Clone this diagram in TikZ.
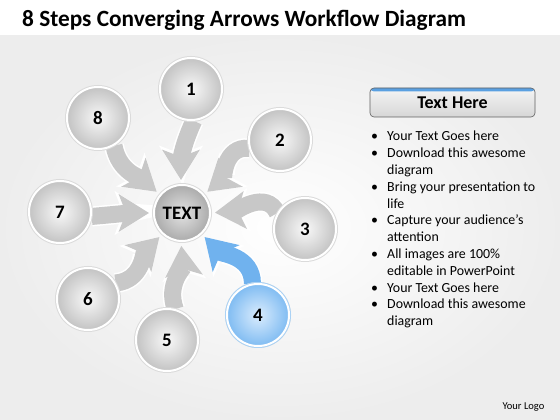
\documentclass[tikz,border=0pt]{standalone}
\usepackage{fontspec}
\setmainfont{Carlito}
\usetikzlibrary{arrows.meta,backgrounds}

\definecolor{arrgray}{RGB}{200,200,200}
\definecolor{arrblue}{RGB}{112,178,238}
\definecolor{hdrblue}{RGB}{90,160,225}

\begin{document}
\begin{tikzpicture}
   [
    x=1pt, y=1pt,
    kugel/.style={circle, minimum size=62pt, inner sep=0pt, shading=radial,
                  inner color=gray!5, outer color=gray!47, draw=white,
                  line width=2pt, preaction={draw=gray!28, line width=4pt},
                  font=\bfseries\fontsize{19}{21}\selectfont},
    mitte/.style={kugel, minimum size=56pt, inner color=gray!22,
                  outer color=gray!66},
    blaukugel/.style={kugel, inner color={rgb,255:red,218;green,236;blue,253},
                  outer color={rgb,255:red,128;green,188;blue,242},
                  preaction={draw={rgb,255:red,170;green,210;blue,245}, line width=4pt}},
    pfeil/.style={line width=17pt, draw=arrgray, shorten >=4pt,
                  -{Stealth[length=30pt,width=37pt,inset=7pt]},
                  preaction={draw=white, line width=20pt,
                             -{Stealth[length=34pt,width=43pt,inset=8pt]}}},
    kopf/.style={rectangle, rounded corners=4pt, minimum width=165pt,
                 minimum height=29pt, top color=gray!8, bottom color=gray!32,
                 draw=gray!75!black, line width=0.6pt,
                 font=\bfseries\fontsize{18}{20}\selectfont,
                 path picture={\fill[hdrblue] (path picture bounding box.north west)
                   rectangle ([yshift=-3.5pt]path picture bounding box.north east);}}
   ]

% background
\begin{pgfonlayer}{background}
\shade[inner color=white, outer color=gray!14] (0,0) rectangle (560,385);
\fill[white] (0,385) rectangle (560,420);
\end{pgfonlayer}

% title
\node[anchor=base west, inner sep=0pt,
      font=\bfseries\fontsize{23.3}{28}\selectfont] (titel) at (22,393)
     {8 Steps Converging Arrows Workflow Diagram};

% center and the eight steps
\node[mitte] (ctr) at (182,207) {TEXT};
\node[kugel] (c1) at (191,331) {1};
\node[kugel] (c2) at (280,280) {2};
\node[kugel] (c3) at (305,191) {3};
\node[blaukugel] (c4) at (258,105) {4};
\node[kugel] (c5) at (167,80) {5};
\node[kugel] (c6) at (88,121) {6};
\node[kugel] (c7) at (60,208) {7};
\node[kugel] (c8) at (98,302) {8};

% converging arrows
\begin{pgfonlayer}{background}
\draw[pfeil] (c1.275) to[out=245,in=90] (ctr.92);
\draw[pfeil] (c2.195) to[out=175,in=40] (ctr.40);
\draw[pfeil] (c3.150) to[out=115,in=5] (ctr.0);
\draw[pfeil, draw=arrblue] (c4.100) to[out=90,in=-45] (ctr.-47);
\draw[pfeil] (c5.75) to[out=110,in=-85] (ctr.-92);
\draw[pfeil] (c6.30) to[out=5,in=-135] (ctr.-133);
\draw[pfeil] (c7.-8) to[out=5,in=180] (ctr.180);
\draw[pfeil] (c8.-60) to[out=-80,in=140] (ctr.140);
\end{pgfonlayer}

% text panel
\node[kopf] (kopf) at (452.5,317.5) {Text Here};
\node[anchor=north west, inner sep=0pt,
      font=\fontsize{13.9}{16.8}\selectfont] (liste) at (368,291)
  {\begin{tabular}{@{}p{19pt}@{}l@{}}
   \hspace{3pt}\textbullet & Your Text Goes here\\
   \hspace{3pt}\textbullet & Download this awesome\\
                           & diagram\\
   \hspace{3pt}\textbullet & Bring your presentation to\\
                           & life\\
   \hspace{3pt}\textbullet & Capture your audience’s\\
                           & attention\\
   \hspace{3pt}\textbullet & All images are 100\%\\
                           & editable in PowerPoint\\
   \hspace{3pt}\textbullet & Your Text Goes here\\
   \hspace{3pt}\textbullet & Download this awesome\\
                           & diagram
   \end{tabular}};

% logo
\node[font=\fontsize{10.5}{12}\selectfont] (logo) at (523.5,13) {Your Logo};

\end{tikzpicture}
\end{document}
